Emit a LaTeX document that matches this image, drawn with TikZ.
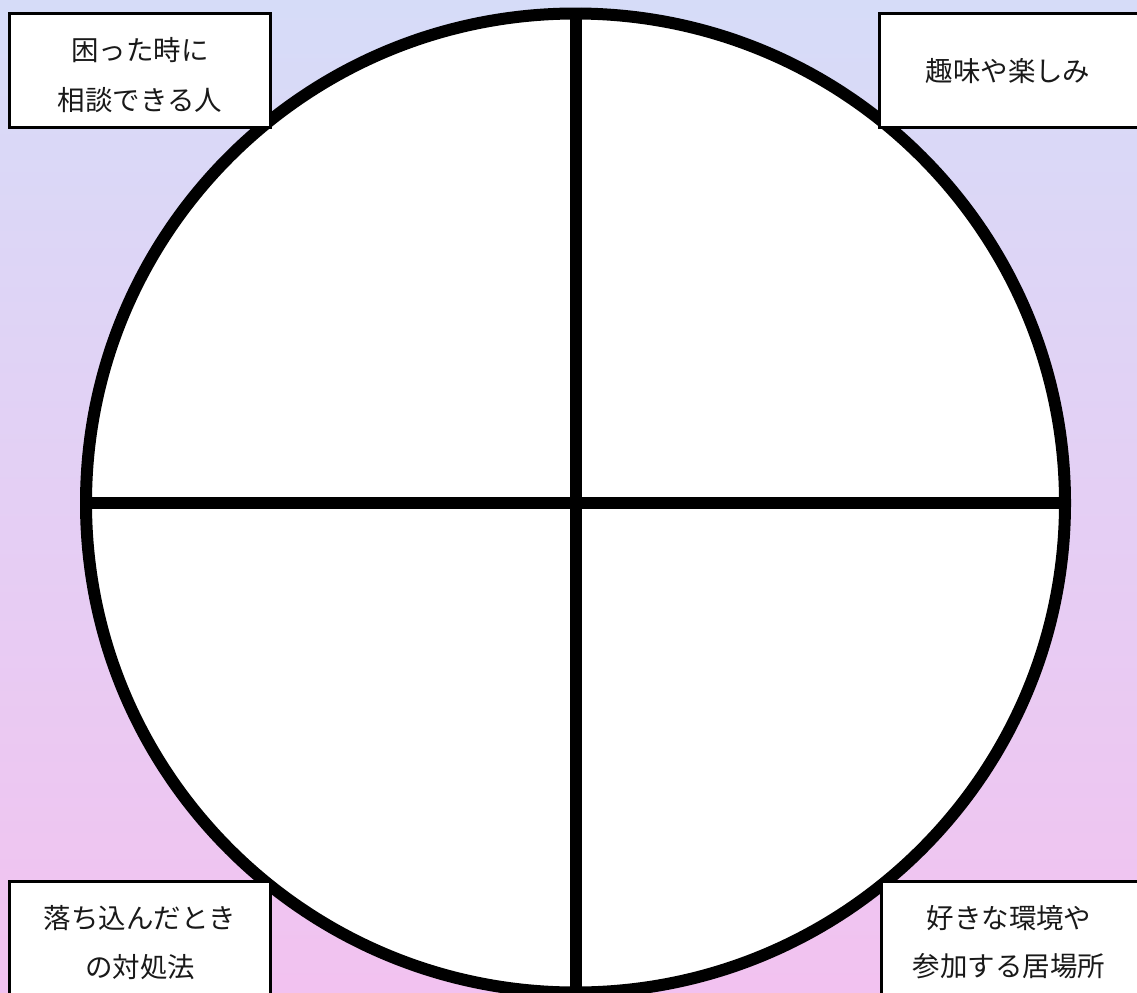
\documentclass[tikz,border=0pt]{standalone}
\usepackage{fontspec}
\newfontfamily\jpfont{Noto Sans CJK JP}
\begin{document}
\begin{tikzpicture}[x=0.75pt,y=-0.75pt,
  label/.style={font=\jpfont\fontsize{20.6}{37.5}\selectfont, align=center, inner sep=0pt, text=black!90},
  cornerbox/.style={draw=black, fill=white, line width=2.25pt},
  divider/.style={line width=9pt, black}]
\definecolor{bgtop}{HTML}{D6DCF8}
\definecolor{bgmid}{HTML}{DCD2F8}
\definecolor{bgbot}{HTML}{F2C2F0}
\useasboundingbox (0,0) rectangle (1137,992);
\clip (0,0) rectangle (1137,992);
\shade[top color=bgtop, middle color=bgmid, bottom color=bgbot] (0,0) rectangle (1137,992);
% circle
\node (c) [circle, fill=white, draw=black, line width=9pt, minimum size=734.25pt, inner sep=0pt] at (575.5,503) {};
\draw[divider] (c.north) -- (c.south);
\draw[divider] (c.west) -- (c.east);
% corner boxes
\draw[cornerbox] (9.5,13) rectangle (270,127);
\draw[cornerbox] (879,13) rectangle (1150,127);
\draw[cornerbox] (9.5,881) rectangle (270,1005);
\draw[cornerbox] (881,881) rectangle (1150,1005);
% labels
\node[label] (tl1) at (140,50) {困った時に};
\node[label] (tl2) at (140,100) {相談できる人};
\node[label] (tr) at (1008,71) {趣味や楽しみ};
\node[label] (bl1) at (140,918) {落ち込んだとき};
\node[label] (bl2) at (140,967) {の対処法};
\node[label] (br1) at (1009,918) {好きな環境や};
\node[label] (br2) at (1009,966) {参加する居場所};
\end{tikzpicture}
\end{document}
